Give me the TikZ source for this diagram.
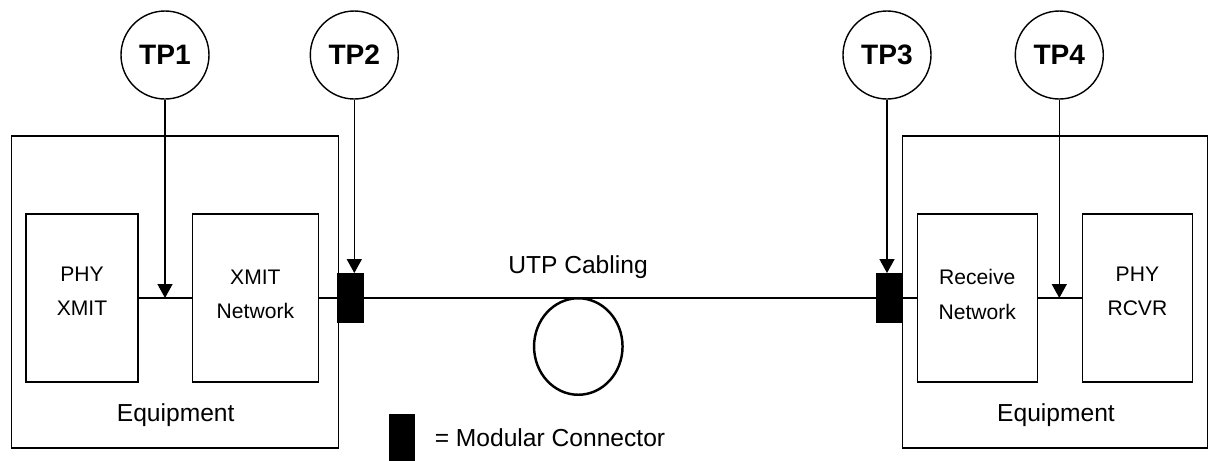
\documentclass[tikz,border=0pt]{standalone}
\usepackage{fontspec}
\setmainfont{Liberation Sans}
\usetikzlibrary{arrows.meta,positioning,shapes.geometric}
\begin{document}
\begin{tikzpicture}[>={Triangle[length=0.28cm,width=0.3cm]},line width=0.8pt]
\tikzstyle{E}=[draw,minimum height=6.24cm]
\tikzstyle{B}=[draw,minimum height=3.36cm]
\tikzstyle{T}=[align=center,font=\fontsize{12}{19.4}\selectfont]
\tikzstyle{P}=[draw,circle,minimum size=1.76cm,inner sep=0pt,font=\fontsize{16}{19}\selectfont\bfseries]
\tikzstyle{C}=[draw,fill=black,minimum width=0.5cm,minimum height=0.97cm,inner sep=0pt]
\tikzstyle{L}=[font=\fontsize{14}{17}\selectfont]
\useasboundingbox (0,0) rectangle (24.18,-9.2);
\node[E,minimum width=6.53cm] (eq1) at (3.5,-5.84) {};
\node[E,minimum width=6.1cm] (eq2) at (21.104,-5.84) {};
\node[B,minimum width=2.24cm] (phyx) at (1.64,-5.96) {};
\node[B,minimum width=2.52cm,right=1.06cm of phyx] (xnet) {};
\node[B,minimum width=2.4cm] (rnet) at (19.546,-5.96) {};
\node[B,minimum width=2.2cm,right=0.874cm of rnet] (phyr) {};
\node[T] (phyxt) at ([yshift=0.14cm]phyx) {PHY\\XMIT};
\node[T] (xnett) at ([yshift=0.07cm]xnet) {XMIT\\Network};
\node[T] (rnett) at ([yshift=0.07cm]rnet) {Receive\\Network};
\node[T] (phyrt) at ([yshift=0.14cm]phyr) {PHY\\RCVR};
\node[L] (eq1l) at (3.514,-8.3) {Equipment};
\node[L] (eq2l) at (21.12,-8.3) {Equipment};
\node[C] (mc1) at (7.007,-5.96) {};
\node[C] (mc2) at (17.787,-5.96) {};
\draw (phyx) -- (xnet); \draw (xnet) -- (mc1);
\draw[line width=1.1pt] (mc1) -- (mc2);
\draw (mc2) -- (rnet); \draw (rnet) -- (phyr);
\node[L] (utp) at (11.56,-5.334) {UTP Cabling};
\node[draw,ellipse,line width=1.4pt,minimum width=1.77cm,minimum height=1.93cm,inner sep=0pt] (loop) at (11.566,-6.93) {};
\node[P] (tp1) at (3.3,-1.1) {TP1};
\node[P] (tp2) at (7.086,-1.1) {TP2};
\node[P] (tp3) at (17.74,-1.1) {TP3};
\node[P] (tp4) at (21.186,-1.1) {TP4};
\draw[->] (tp1) -- (tp1 |- phyx.center);
\draw[->] (tp2) -- (tp2 |- mc1.north);
\draw[->] (tp3) -- (tp3 |- mc2.north);
\draw[->] (tp4) -- (tp4 |- rnet.center);
\node[C,minimum width=0.48cm,minimum height=0.92cm,anchor=north west] (key) at (7.786,-8.28) {};
\node[L,right=0.27cm of key] (keyl) {= Modular Connector};
\end{tikzpicture}
\end{document}
